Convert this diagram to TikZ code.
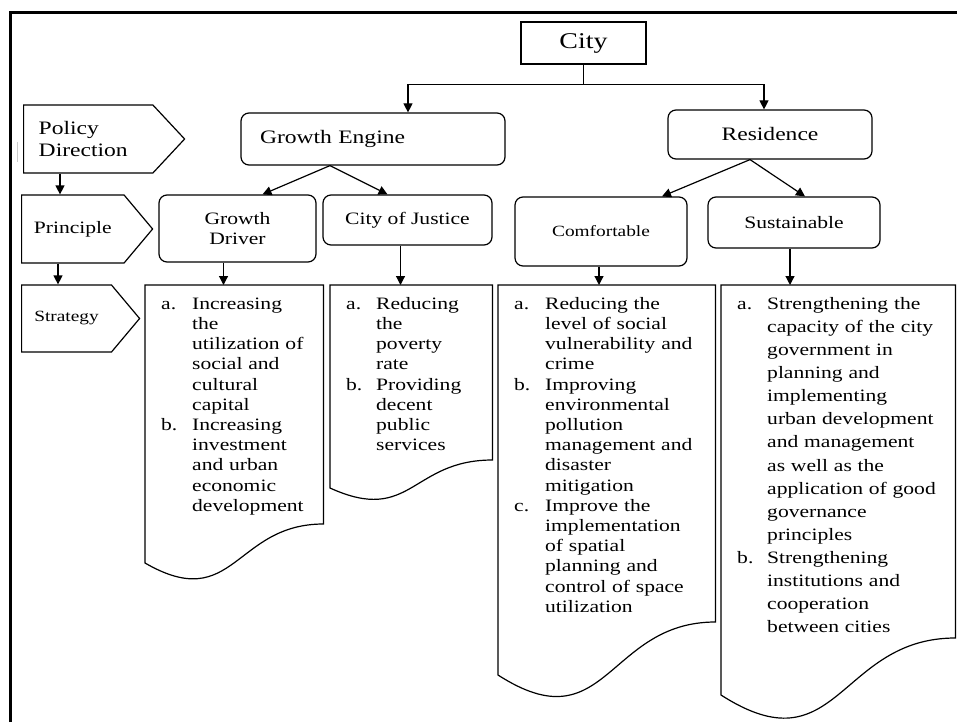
\documentclass[tikz,border=0pt]{standalone}
\usepackage{fontspec}
\setmainfont{Liberation Serif}[FakeStretch=1.24]
\usetikzlibrary{arrows.meta, shapes.symbols}

\newcommand{\fsz}[2]{\fontsize{#1}{#2}\selectfont}
% document outline: node, y of right end, y of left end
\newcommand{\docwave}[3]{%
  \pgfmathsetmacro{\dipy}{#2+2.32*(#3-#2)}%
  \draw[outline] (#1.north west) -- (#1.north east) -- (#1.north east |- 0,#2)
    .. controls (#1.north |- 0,#2) and (#1.north |- 0,\dipy) .. (#1.north west |- 0,#3) -- cycle;}

\begin{document}
\begin{tikzpicture}[x=1pt, y=-1pt,
    outline/.style={draw, line width=1.2pt},
    topbox/.style={rectangle, outline, minimum width=125pt, minimum height=42pt, font=\fsz{22.5}{26}},
    role/.style={rectangle, outline, rounded corners=8pt, font=\fsz{19}{22}},
    prin/.style={rectangle, outline, rounded corners=8pt, align=center, font=\fsz{17.4}{20.5}},
    lvlbox/.style={signal, signal to=east, outline, anchor=west, minimum height=68pt},
    strat/.style={anchor=north west, inner xsep=16pt, inner ysep=10pt, align=left, font=\fsz{17.4}{20.2}},
    arrow/.style={-{Triangle[length=9pt, width=9pt]}, line width=1.2pt}
  ]
  \useasboundingbox (0,0) rectangle (957,722);
  % frame
  \draw[line width=3pt] (10,722) -- (10,13) -- (957,13);
  \draw[gray!40, line width=1pt] (17,142) -- (17,162);

  % Top level
  \node[topbox] (city) at (583.5,43) {City};

  % Policy direction
  \node[role, minimum width=264pt, minimum height=52pt, text width=226pt, align=left] (ge) at (373,139) {Growth Engine};
  \node[role, minimum width=204pt, minimum height=49pt] (res) at (770,134.5) {Residence};

  % Principles
  \node[prin, minimum width=157pt, minimum height=67pt] (gd) at (237.5,228.5) {Growth\\Driver};
  \node[prin, minimum width=169pt, minimum height=50pt] (coj) at (407.5,220) {City of Justice};
  \node[prin, minimum width=172pt, minimum height=69pt, font=\fsz{15.6}{19}] (cf) at (601,231.5) {Comfortable};
  \node[prin, minimum width=172pt, minimum height=51pt] (su) at (794,222.5) {Sustainable};

  % Level tags on the left
  \node[lvlbox, signal pointer angle=94, minimum width=161pt, text width=99pt, align=left, font=\fsz{19}{22.5}] (pd) at (23,139) {Policy\\Direction};
  \node[lvlbox, signal pointer angle=100, minimum width=131pt, font=\fsz{17.4}{20.5}] (pr) at (21,229) {Principle};
  \node[lvlbox, signal pointer angle=100, minimum width=118pt, minimum height=67pt, font=\fsz{15.6}{19}] (st) at (21,318.5) {Strategy};

  % Strategies
  \node[strat, text width=146pt] (s1) at (145,285) {\begin{tabular}{@{}p{31pt}@{}l@{}}
    a. & Increasing\\ & the\\ & utilization of\\ & social and\\ & cultural\\ & capital\\
    b. & Increasing\\ & investment\\ & and urban\\ & economic\\ & development
  \end{tabular}};
  \node[strat, text width=130pt] (s2) at (330,285) {\begin{tabular}{@{}p{30pt}@{}l@{}}
    a. & Reducing\\ & the\\ & poverty\\ & rate\\
    b. & Providing\\ & decent\\ & public\\ & services
  \end{tabular}};
  \node[strat, text width=185pt] (s3) at (498,285) {\begin{tabular}{@{}p{31pt}@{}l@{}}
    a. & Reducing the\\ & level of social\\ & vulnerability and\\ & crime\\
    b. & Improving\\ & environmental\\ & pollution\\ & management and\\ & disaster\\ & mitigation\\
    c. & Improve the\\ & implementation\\ & of spatial\\ & planning and\\ & control of space\\ & utilization
  \end{tabular}};
  \node[strat, text width=202pt, inner ysep=8pt, font=\fsz{17.4}{23.1}] (s4) at (721,285) {\begin{tabular}{@{}p{30pt}@{}l@{}}
    a. & Strengthening the\\ & capacity of the city\\ & government in\\ & planning and\\ & implementing\\ & urban development\\ & and management\\ & as well as the\\ & application of good\\ & governance\\ & principles\\
    b. & Strengthening\\ & institutions and\\ & cooperation\\ & between cities
  \end{tabular}};
  \docwave{s1}{524}{563}
  \docwave{s2}{460}{488}
  \docwave{s3}{622}{675}
  \docwave{s4}{638}{695}

  % Arrows
  \draw[arrow] (city.south) -- ++(0,20) -| ([xshift=35pt]ge.north);
  \draw[arrow] (city.south) -- ++(0,20) -| ([xshift=-6pt]res.north);
  \draw[arrow] ([xshift=-43pt]ge.south) -- ([xshift=25pt]gd.north);
  \draw[arrow] ([xshift=-43pt]ge.south) -- ([xshift=-20pt]coj.north);
  \draw[arrow] ([xshift=-20pt]res.south) -- ([xshift=61pt]cf.north);
  \draw[arrow] ([xshift=-20pt]res.south) -- ([xshift=11pt]su.north);
  \draw[arrow] ([xshift=-14pt]gd.south) -- ([xshift=-14pt]gd.south |- s1.north);
  \draw[arrow] ([xshift=-7pt]coj.south) -- ([xshift=-7pt]coj.south |- s2.north);
  \draw[arrow] ([xshift=-2pt]cf.south) -- ([xshift=-2pt]cf.south |- s3.north);
  \draw[arrow] ([xshift=-4pt]su.south) -- ([xshift=-4pt]su.south |- s4.north);
  \draw[arrow] ([xshift=37pt]pd.west |- pd.south) -- ([xshift=37pt]pd.west |- pr.north);
  \draw[arrow] ([xshift=37pt]pr.west |- pr.south) -- ([xshift=37pt]pr.west |- st.north);
\end{tikzpicture}
\end{document}
